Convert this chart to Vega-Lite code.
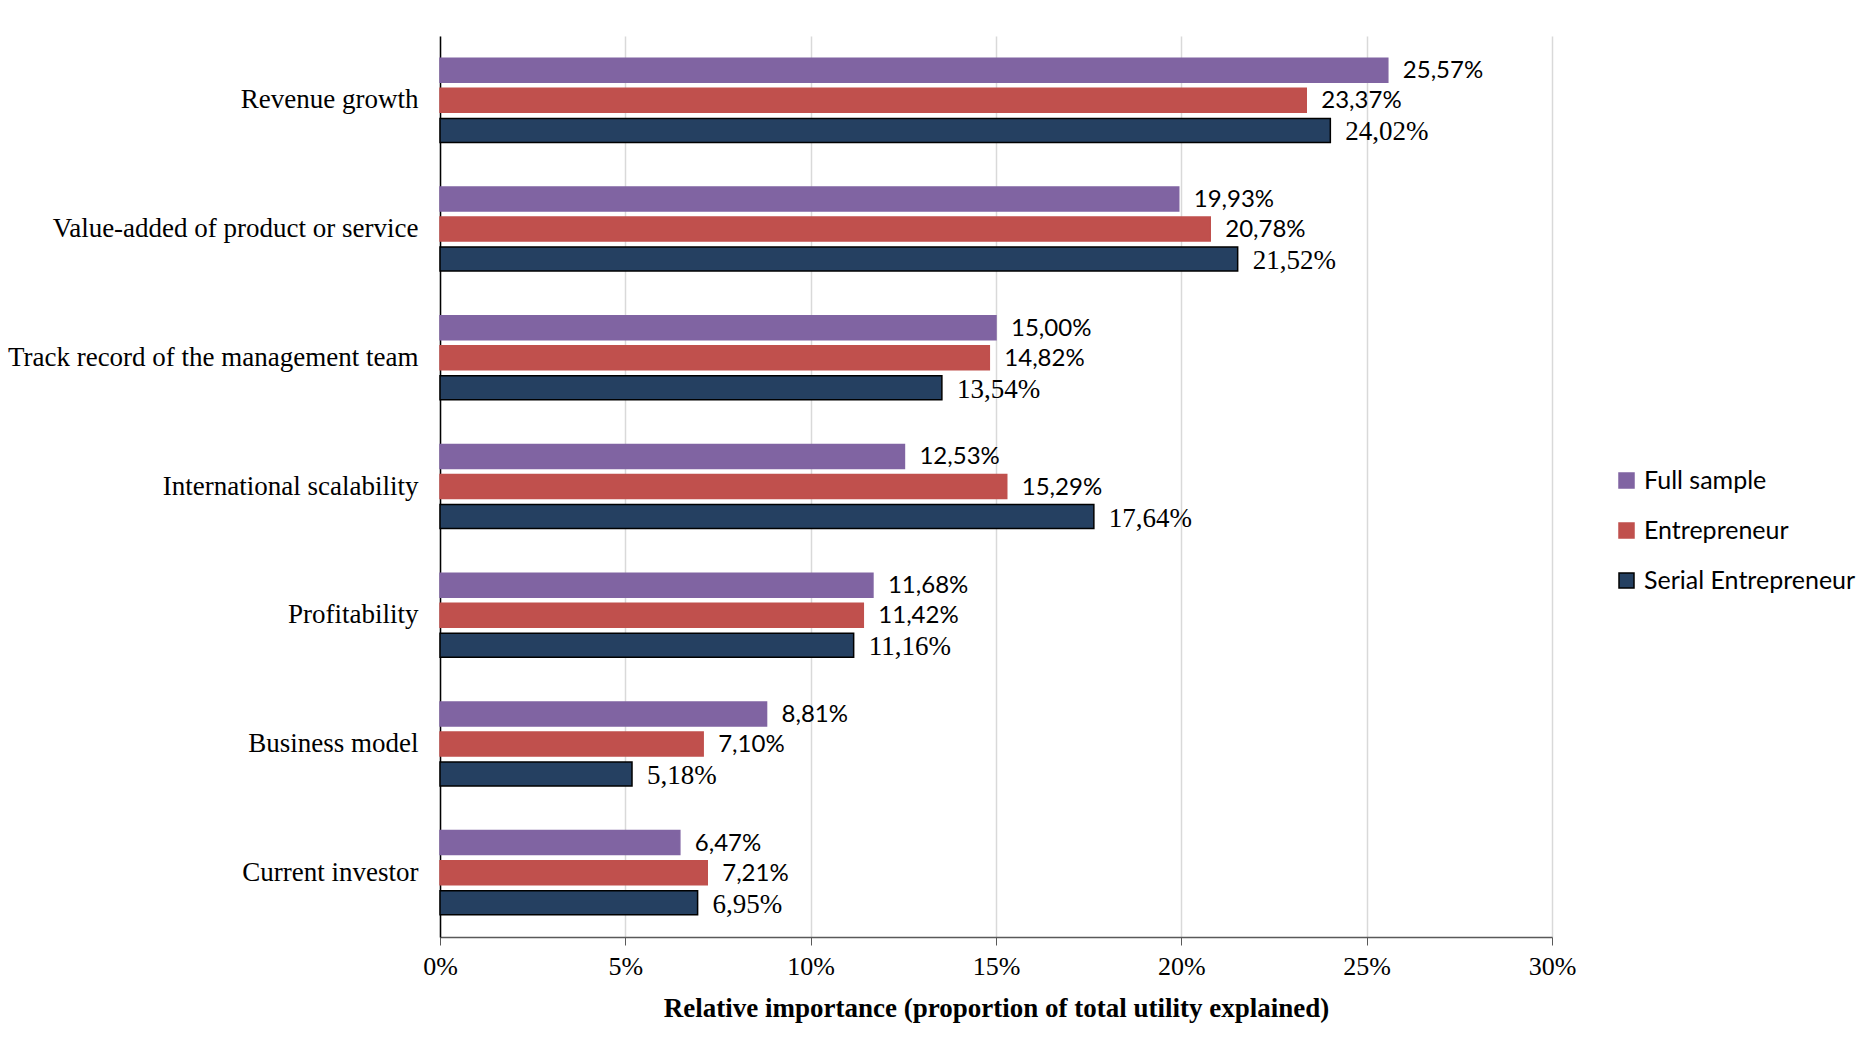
{
  "$schema": "https://vega.github.io/schema/vega-lite/v6.json",
  "autosize": "none",
  "width": 1112,
  "height": 901,
  "padding": {"left": 440, "top": 36, "right": 318, "bottom": 113},
  "background": "white",
  "config": {
    "locale": {"number": {"decimal": ",", "thousands": ".", "grouping": [3], "currency": ["", " €"]}},
    "view": {"stroke": null}
  },
  "data": {
    "values": [
      {"factor": "Revenue growth", "group": "Full sample", "value": 0.2557},
      {"factor": "Revenue growth", "group": "Entrepreneur", "value": 0.2337},
      {"factor": "Revenue growth", "group": "Serial Entrepreneur", "value": 0.2402},
      {"factor": "Value-added of product or service", "group": "Full sample", "value": 0.1993},
      {"factor": "Value-added of product or service", "group": "Entrepreneur", "value": 0.2078},
      {"factor": "Value-added of product or service", "group": "Serial Entrepreneur", "value": 0.2152},
      {"factor": "Track record of the management team", "group": "Full sample", "value": 0.15},
      {"factor": "Track record of the management team", "group": "Entrepreneur", "value": 0.1482},
      {"factor": "Track record of the management team", "group": "Serial Entrepreneur", "value": 0.1354},
      {"factor": "International scalability", "group": "Full sample", "value": 0.1253},
      {"factor": "International scalability", "group": "Entrepreneur", "value": 0.1529},
      {"factor": "International scalability", "group": "Serial Entrepreneur", "value": 0.1764},
      {"factor": "Profitability", "group": "Full sample", "value": 0.1168},
      {"factor": "Profitability", "group": "Entrepreneur", "value": 0.1142},
      {"factor": "Profitability", "group": "Serial Entrepreneur", "value": 0.1116},
      {"factor": "Business model", "group": "Full sample", "value": 0.0881},
      {"factor": "Business model", "group": "Entrepreneur", "value": 0.071},
      {"factor": "Business model", "group": "Serial Entrepreneur", "value": 0.0518},
      {"factor": "Current investor", "group": "Full sample", "value": 0.0647},
      {"factor": "Current investor", "group": "Entrepreneur", "value": 0.0721},
      {"factor": "Current investor", "group": "Serial Entrepreneur", "value": 0.0695}
    ]
  },
  "encoding": {
    "y": {
      "field": "factor",
      "type": "nominal",
      "sort": ["Revenue growth", "Value-added of product or service", "Track record of the management team", "International scalability", "Profitability", "Business model", "Current investor"],
      "scale": {"paddingInner": 0.3, "paddingOuter": 0.15},
      "axis": {
        "title": null,
        "ticks": false,
        "domainColor": "#000000",
        "domainWidth": 1.5,
        "labelFont": "Liberation Serif",
        "labelFontSize": 27,
        "labelColor": "#000000",
        "labelPadding": 22,
        "labelLimit": 500
      }
    },
    "yOffset": {
      "field": "group",
      "type": "nominal",
      "sort": ["Full sample", "Entrepreneur", "Serial Entrepreneur"],
      "scale": {"paddingInner": 0.2, "paddingOuter": 0.1}
    },
    "x": {
      "field": "value",
      "type": "quantitative",
      "scale": {"domain": [0, 0.3], "nice": false},
      "axis": {
        "title": "Relative importance (proportion of total utility explained)",
        "titleFont": "Liberation Serif",
        "titleFontSize": 27,
        "titleFontWeight": "bold",
        "titleColor": "#000000",
        "titlePadding": 16,
        "format": ".0%",
        "values": [0, 0.05, 0.1, 0.15, 0.2, 0.25, 0.3],
        "labelFont": "Liberation Serif",
        "labelFontSize": 26,
        "labelFlush": false,
        "labelColor": "#000000",
        "labelPadding": 8,
        "tickSize": 8,
        "tickColor": "#595959",
        "domainColor": "#595959",
        "domainWidth": 1.5,
        "grid": true,
        "gridColor": "#D9D9D9",
        "gridWidth": 1.5
      }
    }
  },
  "layer": [
    {
      "mark": {"type": "bar", "strokeWidth": 1.5},
      "encoding": {
        "color": {
          "field": "group",
          "type": "nominal",
          "sort": ["Full sample", "Entrepreneur", "Serial Entrepreneur"],
          "scale": {"domain": ["Full sample", "Entrepreneur", "Serial Entrepreneur"], "range": ["#8064A2", "#C0504D", "#254061"]},
          "legend": {
            "title": null,
            "orient": "none",
            "legendX": 1174,
            "legendY": 432,
            "symbolType": "square",
            "symbolSize": 225,
            "symbolStrokeWidth": 1.5,
            "labelFont": "Lato",
            "labelFontSize": 25,
            "labelColor": "#000000",
            "labelOffset": 5,
            "rowPadding": 24,
            "labelLimit": 300
          }
        },
        "stroke": {
          "field": "group",
          "type": "nominal",
          "sort": ["Full sample", "Entrepreneur", "Serial Entrepreneur"],
          "scale": {"domain": ["Full sample", "Entrepreneur", "Serial Entrepreneur"], "range": ["#8064A2", "#C0504D", "#000000"]},
          "legend": {
            "title": null,
            "orient": "none",
            "legendX": 1174,
            "legendY": 432,
            "symbolType": "square",
            "symbolSize": 225,
            "symbolStrokeWidth": 1.5,
            "labelFont": "Lato",
            "labelFontSize": 25,
            "labelColor": "#000000",
            "labelOffset": 5,
            "rowPadding": 24,
            "labelLimit": 300
          }
        }
      }
    },
    {
      "transform": [{"filter": "datum.group !== 'Serial Entrepreneur'"}],
      "mark": {"type": "text", "align": "left", "baseline": "middle", "dx": 15, "dy": 1, "font": "Lato", "fontSize": 24, "color": "#000000"},
      "encoding": {
        "text": {"field": "value", "type": "quantitative", "format": ".2%"}
      }
    },
    {
      "transform": [{"filter": "datum.group === 'Serial Entrepreneur'"}],
      "mark": {"type": "text", "align": "left", "baseline": "middle", "dx": 15, "dy": 2, "font": "Liberation Serif", "fontSize": 27, "color": "#000000"},
      "encoding": {
        "text": {"field": "value", "type": "quantitative", "format": ".2%"}
      }
    }
  ]
}
